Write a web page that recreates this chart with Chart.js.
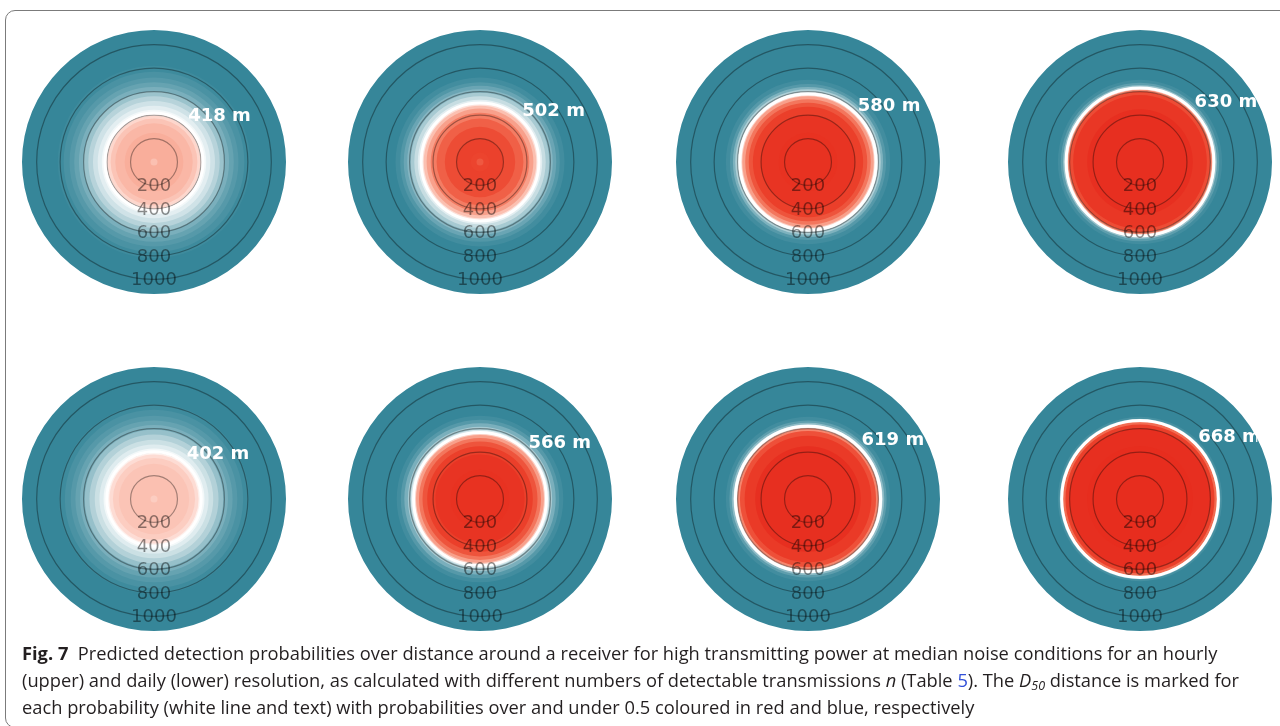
<!DOCTYPE html>
<html>
<head>
<meta charset="utf-8">
<script src="https://cdn.jsdelivr.net/npm/chart.js@4/dist/chart.umd.min.js"></script>
<style>
  html, body { margin: 0; padding: 0; background: #fff; overflow: hidden; }
  body { width: 1280px; height: 726px; position: relative; }
  .frame {
    position: absolute; left: 5px; top: 10px; width: 1320px; height: 716px;
    border: 1.5px solid #7b7b7b; border-radius: 10px;
  }
  .panel { position: absolute; }
  .caption {
    position: absolute; left: 22px; top: 639px;
    font-family: "Open Sans", sans-serif; font-size: 18.3px; line-height: 27px;
    color: #231f20; white-space: nowrap;
  }
  .caption b { font-weight: 700; }
  .caption .ref { color: #3150d8; }
  .caption sub { font-size: 12.5px; vertical-align: -3px; line-height: 0; }
</style>
</head>
<body>
<div class="frame"></div>
<div id="plots"></div>
<div class="caption">
  <div><b>Fig. 7</b>&nbsp; Predicted detection probabilities over distance around a receiver for high transmitting power at median noise conditions for an hourly</div>
  <div>(upper) and daily (lower) resolution, as calculated with different numbers of detectable transmissions <i>n</i> (Table <span class="ref">5</span>). The <i>D<sub>50</sub></i> distance is marked for</div>
  <div>each probability (white line and text) with probabilities over and under 0.5 coloured in red and blue, respectively</div>
</div>
<script>
// distance rings (m) and the radius of the computed grid
const ringTicks = [200, 400, 600, 800, 1000];
const gridExtent = 1125;

// D50 distances (m), hourly row then daily row
const d50Upper = [418, 502, 580, 630];
const d50Lower = [402, 566, 619, 668];

// probability bands: outer distance of each band (m) and the probability inside it
const upper1Dist = [820, 770, 720, 680, 640, 600, 560, 520, 480, 445, 418, 395, 370, 330, 250, 30];
const upper1Prob = [0.02, 0.05, 0.08, 0.12, 0.17, 0.25, 0.32, 0.38, 0.43, 0.47, 0.53, 0.58, 0.62, 0.65, 0.67, 0.63];
const upper2Dist = [720, 680, 650, 620, 590, 560, 530, 502, 480, 455, 420, 370, 300, 200, 80, 30];
const upper2Prob = [0.03, 0.07, 0.13, 0.2, 0.28, 0.36, 0.43, 0.56, 0.63, 0.7, 0.77, 0.83, 0.88, 0.91, 0.9, 0.85];
const upper3Dist = [700, 665, 640, 620, 600, 580, 560, 535, 505, 470, 400, 250];
const upper3Prob = [0.03, 0.08, 0.18, 0.3, 0.42, 0.6, 0.7, 0.78, 0.86, 0.92, 0.96, 0.97];
const upper4Dist = [700, 675, 655, 640, 630, 615, 600, 570, 450];
const upper4Prob = [0.03, 0.1, 0.25, 0.4, 0.6, 0.75, 0.88, 0.95, 0.98];

const lower1Dist = [810, 760, 710, 670, 630, 590, 550, 505, 465, 430, 402, 380, 350, 300, 200, 30];
const lower1Prob = [0.02, 0.05, 0.08, 0.12, 0.17, 0.24, 0.31, 0.37, 0.42, 0.47, 0.53, 0.57, 0.6, 0.62, 0.63, 0.6];
const lower2Dist = [710, 675, 645, 615, 590, 566, 545, 520, 490, 450, 380, 250];
const lower2Prob = [0.03, 0.08, 0.17, 0.28, 0.4, 0.6, 0.7, 0.78, 0.86, 0.92, 0.96, 0.97];
const lower3Dist = [700, 670, 650, 635, 619, 600, 580, 540, 450];
const lower3Prob = [0.03, 0.1, 0.22, 0.38, 0.6, 0.75, 0.87, 0.94, 0.98];
const lower4Dist = [700, 685, 675, 668, 655, 635, 600, 450];
const lower4Prob = [0.04, 0.15, 0.35, 0.65, 0.8, 0.92, 0.98, 0.99];

// diverging map: teal below 0.5, white at 0.5, salmon to red above
const cmapStops = [
    [0, [54, 134, 153]],
    [0.5, [255, 255, 255]],
    [0.6, [252, 205, 193]],
    [0.68, [249, 170, 150]],
    [0.8, [242, 108, 82]],
    [0.9, [236, 68, 46]],
    [1, [230, 42, 28]]
];
function probColour(p) {
    let k = 1;
    while (k < cmapStops.length - 1 && p > cmapStops[k][0]) k++;
    const [p0, a] = cmapStops[k - 1];
    const [p1, b] = cmapStops[k];
    const t = Math.min(1, Math.max(0, (p - p0) / (p1 - p0)));
    const c = a.map((v, i) => Math.round(v + (b[i] - v) * t));
    return `rgb(${c.join(',')})`;
}

const panels = [
    { cx: 154, cy: 162, dist: upper1Dist, prob: upper1Prob, d50: d50Upper[0] },
    { cx: 480, cy: 162, dist: upper2Dist, prob: upper2Prob, d50: d50Upper[1] },
    { cx: 808, cy: 162, dist: upper3Dist, prob: upper3Prob, d50: d50Upper[2] },
    { cx: 1140, cy: 162, dist: upper4Dist, prob: upper4Prob, d50: d50Upper[3] },
    { cx: 154, cy: 499, dist: lower1Dist, prob: lower1Prob, d50: d50Lower[0] },
    { cx: 480, cy: 499, dist: lower2Dist, prob: lower2Prob, d50: d50Lower[1] },
    { cx: 808, cy: 499, dist: lower3Dist, prob: lower3Prob, d50: d50Lower[2] },
    { cx: 1140, cy: 499, dist: lower4Dist, prob: lower4Prob, d50: d50Lower[3] }
];

// white D50 circle, ring labels and the "xxx m" label
const overlay = {
    id: 'overlay',
    afterDraw(chart, args, opts) {
        const scale = chart.scales.r;
        const ctx = chart.ctx;
        const cx = scale.xCenter, cy = scale.yCenter;
        const rr = scale.getDistanceFromCenterForValue(opts.d50);
        ctx.save();
        ctx.strokeStyle = '#fff';
        ctx.lineWidth = 3;
        ctx.beginPath();
        ctx.arc(cx, cy, rr, 0, Math.PI * 2);
        ctx.stroke();

        ctx.font = '18px "DejaVu Sans"';
        ctx.fillStyle = 'rgba(0,0,0,0.45)';
        ctx.textAlign = 'center';
        ctx.textBaseline = 'middle';
        ringTicks.forEach(v => {
            ctx.fillText(String(v), cx, cy + scale.getDistanceFromCenterForValue(v) + 1);
        });

        // label is clipped to the square around the outer ring
        const edge = scale.getDistanceFromCenterForValue(ringTicks[ringTicks.length - 1]);
        ctx.beginPath();
        ctx.rect(cx - edge, cy - edge, edge * 2, edge * 2);
        ctx.clip();
        ctx.font = 'bold 18px "DejaVu Sans"';
        ctx.fillStyle = '#fff';
        ctx.textAlign = 'left';
        ctx.fillText(opts.d50 + ' m', cx + rr * 0.82 - 6, cy - rr * 0.56 - 18);
        ctx.restore();
    }
};

const holder = document.getElementById('plots');
panels.forEach(p => {
    const canvas = document.createElement('canvas');
    canvas.width = 330;
    canvas.height = 300;
    canvas.className = 'panel';
    canvas.style.left = (p.cx - 165) + 'px';
    canvas.style.top = (p.cy - 150) + 'px';
    holder.appendChild(canvas);

    const datasets = [{
        data: [gridExtent],
        backgroundColor: probColour(0),
        borderWidth: 0,
        order: 100
    }];
    p.dist.forEach((d, i) => {
        datasets.push({
            data: [d],
            backgroundColor: probColour(p.prob[i]),
            borderWidth: 0,
            order: p.dist.length - i
        });
    });

    new Chart(canvas, {
        type: 'polarArea',
        data: { labels: [''], datasets: datasets },
        options: {
            responsive: false,
            animation: false,
            events: [],
            layout: { padding: { left: 33, right: 32, top: 18, bottom: 17 } },
            scales: {
                r: {
                    min: 0,
                    max: gridExtent,
                    startAngle: 0,
                    afterBuildTicks: axis => {
                        axis.ticks = [0, ...ringTicks].map(v => ({ value: v }));
                    },
                    ticks: { display: false },
                    grid: { circular: true, color: 'rgba(0,0,0,0.35)', lineWidth: 1.2, z: 1 },
                    angleLines: { display: false },
                    pointLabels: { display: false }
                }
            },
            plugins: {
                legend: { display: false },
                tooltip: { enabled: false },
                overlay: { d50: p.d50 }
            }
        },
        plugins: [overlay]
    });
});
</script>
</body>
</html>
